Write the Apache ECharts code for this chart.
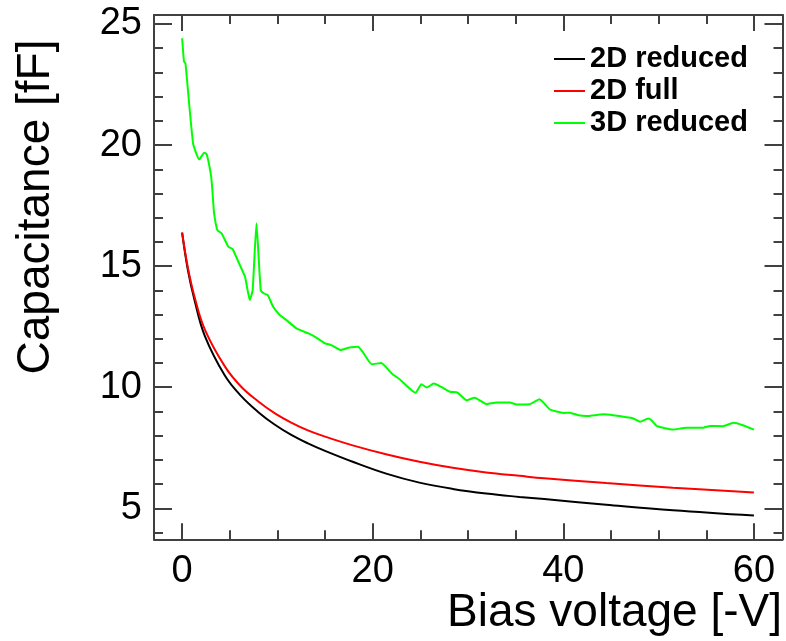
<!DOCTYPE html>
<html>
<head>
<meta charset="utf-8">
<script src="https://cdn.jsdelivr.net/npm/echarts@6/dist/echarts.min.js"></script>
<style>html,body{margin:0;padding:0;background:#fff;}#c{width:786px;height:641px;}</style>
</head>
<body>
<div id="c"></div>
<script>
// ---- data ----
const seriesNames = ['2D reduced', '2D full', '3D reduced'];
const xMajorTicks = [0, 20, 40, 60];
const xMinorTicks = [5, 10, 15, 25, 30, 35, 45, 50, 55];
const yMajorTicks = [5, 10, 15, 20, 25];
const yMinorTicks = [4, 6, 7, 8, 9, 11, 12, 13, 14, 16, 17, 18, 19, 21, 22, 23, 24];

const blackV = [0, 0.6, 1.3, 2.4, 4.5, 6.2, 8.0, 9.7, 11.5, 13.2, 15.0, 17.9, 21.5, 24.9, 28.4, 31.9, 35.4, 38, 44.5, 51.5, 60];
const blackC = [16.38, 14.85, 13.6, 12.1, 10.47, 9.63, 8.97, 8.46, 8.02, 7.68, 7.37, 6.92, 6.42, 6.06, 5.80, 5.61, 5.47, 5.38, 5.15, 4.92, 4.70];

const redV = [0, 0.6, 1.3, 2.4, 4.5, 6.2, 8.0, 9.7, 11.5, 13.2, 15.0, 17.9, 21.5, 24.9, 28.4, 31.9, 35.4, 38, 44.5, 51.5, 60];
const redC = [16.38, 14.95, 13.74, 12.37, 10.85, 10.02, 9.41, 8.93, 8.53, 8.22, 7.96, 7.60, 7.22, 6.92, 6.67, 6.48, 6.34, 6.24, 6.04, 5.85, 5.65];

const greenV = [0.0, 0.2, 0.35, 1.15, 1.8, 2.32, 2.57, 3.05, 3.2, 3.35, 3.7, 4.15, 4.85, 5.3, 5.9, 6.6, 7.1, 7.4, 7.8, 8.25, 8.6, 9.0, 9.55, 10.25, 10.95, 12.0, 13.25, 13.95, 15.0, 15.65, 16.6, 17.55, 18.45, 18.95, 19.9, 20.9, 22.0, 22.85, 24.5, 25.1, 25.7, 26.4, 27.2, 28.1, 28.9, 29.85, 30.7, 31.95, 33.0, 34.4, 35.1, 36.5, 37.5, 38.6, 40.0, 40.7, 41.6, 42.45, 44.2, 45.25, 47.35, 48.05, 48.9, 49.25, 49.85, 51.5, 52.9, 54.7, 55.4, 56.75, 57.85, 58.85, 60.0];
const greenC = [24.41, 23.44, 23.38, 20.07, 19.41, 19.68, 19.63, 18.7, 18.0, 17.2, 16.49, 16.35, 15.8, 15.7, 15.18, 14.56, 13.6, 14.0, 16.77, 14.0, 13.87, 13.8, 13.32, 12.98, 12.77, 12.43, 12.22, 12.08, 11.81, 11.74, 11.54, 11.64, 11.67, 11.46, 10.95, 11.0, 10.57, 10.32, 9.77, 10.12, 9.99, 10.15, 10.01, 9.81, 9.78, 9.46, 9.57, 9.3, 9.37, 9.37, 9.29, 9.3, 9.5, 9.08, 8.94, 8.95, 8.84, 8.81, 8.88, 8.84, 8.71, 8.57, 8.71, 8.64, 8.39, 8.25, 8.33, 8.33, 8.40, 8.39, 8.53, 8.43, 8.25];

const zip = (a, b) => a.map((v, i) => [v, b[i]]);

// ---- layout ----
const FONT = '"Liberation Sans", Arial, Helvetica, sans-serif';
const X_MIN = -2.95, X_MAX = 63.0;
const Y_MIN = 3.72, Y_MAX = 25.37;
const AX = '#404040';

function xAx(pos, ticks, len, labels, line) {
  return {
    type: 'value', position: pos, min: X_MIN, max: X_MAX,
    axisLine: { show: line, onZero: false, lineStyle: { color: AX, width: 2 } },
    axisTick: { show: true, inside: true, length: len, customValues: ticks, lineStyle: { color: AX, width: 2 } },
    axisLabel: { show: labels, customValues: ticks, margin: 13, color: '#000', fontSize: 38, fontFamily: FONT },
    splitLine: { show: false }
  };
}
function yAx(pos, ticks, len, labels, line) {
  return {
    type: 'value', position: pos, min: Y_MIN, max: Y_MAX,
    axisLine: { show: line, onZero: false, lineStyle: { color: AX, width: 2 } },
    axisTick: { show: true, inside: true, length: len, customValues: ticks, lineStyle: { color: AX, width: 2 } },
    axisLabel: { show: labels, customValues: ticks, margin: 12, color: '#000', fontSize: 38, fontFamily: FONT },
    splitLine: { show: false }
  };
}

const chart = echarts.init(document.getElementById('c'), null, { renderer: 'canvas' });
chart.setOption({
  animation: false,
  backgroundColor: '#fff',
  grid: { left: 154, right: 3.5, top: 15, bottom: 101.7, containLabel: false },
  xAxis: [
    xAx('bottom', xMajorTicks, 16, true, true),
    xAx('bottom', xMinorTicks, 9, false, false),
    xAx('top', xMajorTicks, 16, false, true),
    xAx('top', xMinorTicks, 9, false, false)
  ],
  yAxis: [
    yAx('left', yMajorTicks, 18, true, true),
    yAx('left', yMinorTicks, 9, false, false),
    yAx('right', yMajorTicks, 18, false, true),
    yAx('right', yMinorTicks, 9, false, false)
  ],
  legend: {
    orient: 'vertical', left: 549, top: 38,
    itemWidth: 31, itemHeight: 2, itemGap: 0, icon: 'rect',
    textStyle: { fontFamily: FONT, fontSize: 29, fontWeight: 'bold', color: '#000', lineHeight: 32, padding: [0, 0, 0, 0] },
    data: seriesNames
  },
  graphic: [
    { type: 'text', x: 36, y: 207, rotation: Math.PI / 2,
      style: { text: 'Capacitance [fF]', fontSize: 46, fontFamily: FONT, fill: '#000', align: 'center', verticalAlign: 'middle' } },
    { type: 'text', x: 782, y: 613,
      style: { text: 'Bias voltage [-V]', fontSize: 46, fontFamily: FONT, fill: '#000', align: 'right', verticalAlign: 'middle' } }
  ],
  series: [
    { name: seriesNames[0], type: 'line', xAxisIndex: 0, yAxisIndex: 0, symbol: 'none', smooth: 0.4,
      lineStyle: { color: '#000000', width: 2 }, itemStyle: { color: '#000000' }, data: zip(blackV, blackC) },
    { name: seriesNames[1], type: 'line', xAxisIndex: 0, yAxisIndex: 0, symbol: 'none', smooth: 0.4,
      lineStyle: { color: '#ff0000', width: 2 }, itemStyle: { color: '#ff0000' }, data: zip(redV, redC) },
    { name: seriesNames[2], type: 'line', xAxisIndex: 0, yAxisIndex: 0, symbol: 'none', smooth: 0.15,
      lineStyle: { color: '#00ff00', width: 2 }, itemStyle: { color: '#00ff00' }, data: zip(greenV, greenC) }
  ]
});
</script>
</body>
</html>
